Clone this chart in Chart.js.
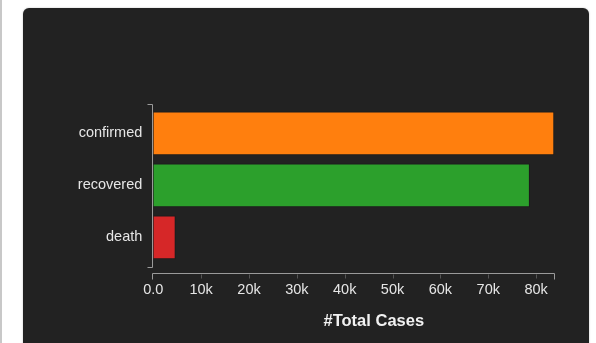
<!DOCTYPE html>
<html>
<head>
<meta charset="utf-8">
<script src="https://cdn.jsdelivr.net/npm/chart.js@4"></script>
<style>
    body { margin: 0; background: #fff; width: 596px; height: 343px; overflow: hidden; position: relative; }
    #leftEdge { position: absolute; left: 0; top: 0; width: 2px; height: 343px; background: #c8c8c8; }
    #panel { position: absolute; left: 23px; top: 8px; width: 566px; height: 400px; background: #222222; border-radius: 6px; box-shadow: 0 0 2px rgba(0,0,0,0.25); }
    #casesChart { position: absolute; left: 0; top: 0; }
</style>
</head>
<body>
<div id="leftEdge"></div>
<div id="panel"></div>
<canvas id="casesChart" width="596" height="343"></canvas>
<script>
// data
const categories = ['confirmed', 'recovered', 'death'];
const totalCases = [83800, 78700, 4680];
const barColors = ['#ff7f0e', '#2ca02c', '#d62728'];
const xTicks = [0, 10000, 20000, 30000, 40000, 50000, 60000, 70000, 80000];
const xTickLabels = ['0.0', '10k', '20k', '30k', '40k', '50k', '60k', '70k', '80k'];
const xTitle = '#Total Cases';

const FONT = "'Liberation Sans', Arial, sans-serif";

// d3 style axis domains with outer ticks + the x title
const axisPlugin = {
    id: 'axisDomains',
    afterDraw: function (chart) {
        const ctx = chart.ctx;
        const area = chart.chartArea;
        const xScale = chart.scales.x;
        ctx.save();
        ctx.lineWidth = 1;

        // y domain
        const yx = Math.round(area.left) - 0.5;
        const yTop = Math.round(area.top) - 2.5;
        const yBot = Math.round(area.bottom) + 4.5;
        ctx.strokeStyle = '#9a9a9a';
        ctx.beginPath();
        ctx.moveTo(yx - 5, yTop);
        ctx.lineTo(yx, yTop);
        ctx.lineTo(yx, yBot);
        ctx.lineTo(yx - 5, yBot);
        ctx.stroke();

        // x domain
        const xy = Math.round(area.bottom) + 10.5;
        const xRight = Math.round(area.right) + 0.5;
        ctx.beginPath();
        ctx.moveTo(yx, xy + 6);
        ctx.lineTo(yx, xy);
        ctx.lineTo(xRight, xy);
        ctx.lineTo(xRight, xy + 6);
        ctx.stroke();

        // inner ticks
        ctx.strokeStyle = '#555555';
        xTicks.forEach(function (v) {
            if (v === 0) return;
            const px = Math.round(xScale.getPixelForValue(v)) + 0.5;
            ctx.beginPath();
            ctx.moveTo(px, xy + 1);
            ctx.lineTo(px, xy + 5);
            ctx.stroke();
        });

        // title
        ctx.fillStyle = '#f2f2f2';
        ctx.font = 'bold 16.5px ' + FONT;
        ctx.textAlign = 'center';
        ctx.textBaseline = 'middle';
        ctx.fillText(xTitle, (area.left + area.right) / 2 + 20, xy + 48);
        ctx.restore();
    }
};

function drawChart() {
    const canvas = document.getElementById('casesChart');

    new Chart(canvas, {
        type: 'bar',
        data: {
            labels: categories,
            datasets: [{
                label: xTitle,
                data: totalCases,
                backgroundColor: barColors,
                borderColor: 'rgba(0,0,0,0.25)',
                borderWidth: 1,
                barPercentage: 1,
                categoryPercentage: 0.84
            }]
        },
        plugins: [axisPlugin],
        options: {
            indexAxis: 'y',
            responsive: false,
            animation: false,
            layout: {
                padding: { top: 107.4, right: 41.7, bottom: 19.6, left: 0 }
            },
            plugins: {
                legend: { display: false },
                tooltip: { enabled: false }
            },
            scales: {
                x: {
                    min: 0,
                    max: Math.max.apply(null, totalCases),
                    afterFit: function (scale) { scale.height = 60; },
                    afterBuildTicks: function (scale) {
                        scale.ticks = xTicks.map(function (v) { return { value: v }; });
                    },
                    grid: { display: false, drawTicks: false },
                    border: { display: false },
                    ticks: {
                        padding: 18,
                        autoSkip: false,
                        maxRotation: 0,
                        color: '#e6e6e6',
                        font: { family: FONT, size: 14.5 },
                        callback: function (value, index) { return xTickLabels[index]; }
                    }
                },
                y: {
                    afterFit: function (scale) { scale.width = 153.3; },
                    grid: { display: false, drawTicks: false },
                    border: { display: false },
                    ticks: {
                        padding: 11,
                        color: '#e6e6e6',
                        font: { family: FONT, size: 14.5 }
                    }
                }
            }
        }
    });
}

drawChart();
</script>
</body>
</html>
